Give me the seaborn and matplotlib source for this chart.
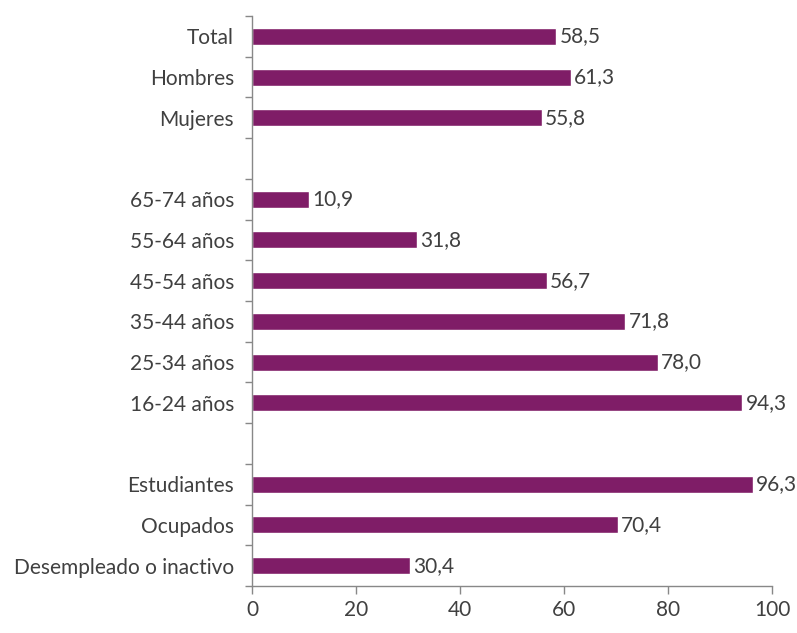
import numpy as np
import pandas as pd
import seaborn as sns
import matplotlib.pyplot as plt
from matplotlib.ticker import FixedLocator

# data (blank rows are the gaps between groups)
categories = ["Total", "Hombres", "Mujeres", "",
              "65-74 años", "55-64 años", "45-54 años", "35-44 años", "25-34 años", "16-24 años", " ",
              "Estudiantes", "Ocupados", "Desempleado o inactivo"]
values = [58.5, 61.3, 55.8, 0,
          10.9, 31.8, 56.7, 71.8, 78.0, 94.3, 0,
          96.3, 70.4, 30.4]
x_ticks = [0, 20, 40, 60, 80, 100]

df = pd.DataFrame({"cat": categories, "val": values})

sns.set_theme(style="white")
plt.rcParams["font.family"] = ["Lato", "DejaVu Sans"]
text_color = "#404040"
bar_color = "#7F1D67"
fs = 15

fig = plt.figure(figsize=(7.97, 6.33), dpi=100)
ax = fig.add_axes([252/797, 1 - 586/633, (772 - 252)/797, (586 - 16)/633])

sns.barplot(data=df, x="val", y="cat", order=categories, color=bar_color,
            width=0.42, saturation=1, ax=ax)

# value labels, decimal comma
for i, (c, v) in enumerate(zip(categories, values)):
    if c.strip():
        ax.text(v + 0.6, i, f"{v:.1f}".replace(".", ","), va="center", ha="left",
                fontsize=fs, color=text_color)

ax.set_xlim(0, 100)
ax.set_ylim(len(categories) - 0.5, -0.5)
ax.set_xticks(x_ticks)
ax.set_xlabel("")
ax.set_ylabel("")
ax.tick_params(axis="x", which="major", length=6, width=1, color="#888888",
               labelsize=fs, labelcolor=text_color, pad=4, direction="out", bottom=True)
ax.tick_params(axis="y", which="major", length=0, labelsize=fs, labelcolor=text_color, pad=13)
# tick marks between categories on the left spine
ax.yaxis.set_minor_locator(FixedLocator(np.arange(-0.5, len(categories), 1.0)))
ax.tick_params(axis="y", which="minor", length=5, width=1, color="#888888", left=True, direction="out")

for s in ["top", "right"]:
    ax.spines[s].set_visible(False)
for s in ["left", "bottom"]:
    ax.spines[s].set_color("#888888")
    ax.spines[s].set_linewidth(1)
ax.grid(False)

fig.savefig("out.png", dpi=100)
